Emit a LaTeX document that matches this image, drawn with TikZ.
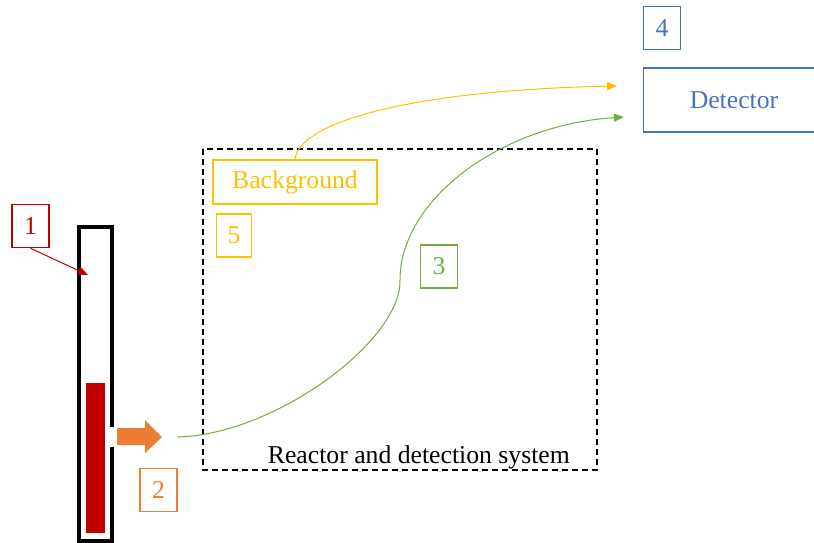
\documentclass[tikz,border=0pt]{standalone}
\usepackage{fontspec}
\setmainfont{Liberation Serif}
\usepackage{xcolor}
\usetikzlibrary{arrows.meta}

\definecolor{myred}{HTML}{C00000}
\definecolor{myorange}{HTML}{ED7D31}
\definecolor{mygreen}{HTML}{70AD47}
\definecolor{myyellow}{HTML}{FFC000}
\definecolor{myblue}{HTML}{4472C4}

\tikzset{
  numbox/.style={draw=#1, text=#1, line width=1.5pt, minimum width=37pt, minimum height=43pt, inner sep=0pt},
  tipp/.style={-{Triangle[length=10pt,width=8pt]}}
}

\begin{document}
\begin{tikzpicture}[x=1pt, y=-1pt, font=\fontsize{25.7}{30}\selectfont]
\useasboundingbox (0,0) rectangle (814,543);

% tube
\draw[line width=4pt] (112,427) -- (112,227) -- (79,227) -- (79,541) -- (112,541) -- (112,447);
\fill[myred] (86,383) rectangle (105,533);

% beam
\fill[myorange] (117,428) -- (145,428) -- (145,420) -- (162,437) -- (145,453) -- (145,445) -- (117,445) -- cycle;
\coordinate (beam) at (177,437);

% reactor
\draw[line width=1.5pt, dash pattern=on 6pt off 4pt] (203,149) rectangle (597,470);
\node[anchor=base east, inner sep=0pt] (reactor) at (570,463) {Reactor and detection system};

\node[draw=myyellow, text=myyellow, line width=1.5pt, minimum width=164pt, minimum height=44pt, inner sep=0pt] (bg) at (295,182) {Background};

\node[draw=myblue, text=myblue, line width=1.5pt, minimum width=181pt, minimum height=64pt, inner sep=0pt] (det) at (734,100) {Detector};
\coordinate (detg) at (624,117);
\coordinate (dety) at (617,86);
\coordinate (tube) at (88,275);

\node[numbox=myred] (n1) at (30.5,226) {1};
\node[numbox=myorange] (n2) at (158.5,490) {2};
\node[numbox=mygreen] (n3) at (439,266.5) {3};
\node[numbox=myblue] (n4) at (662,28) {4};
\node[numbox=myyellow, minimum width=35pt] (n5) at (234,235.5) {5};

\draw[myred, line width=1pt, tipp] (n1.south) -- (tube);
\draw[mygreen, line width=1pt, tipp] (beam) .. controls (275,435) and (402,340) .. (400,280) .. controls (400,200) and (500,125) .. (detg);
\draw[myyellow, line width=1pt, tipp] (bg.north) .. controls (300,120) and (420,90) .. (dety);
\end{tikzpicture}
\end{document}
